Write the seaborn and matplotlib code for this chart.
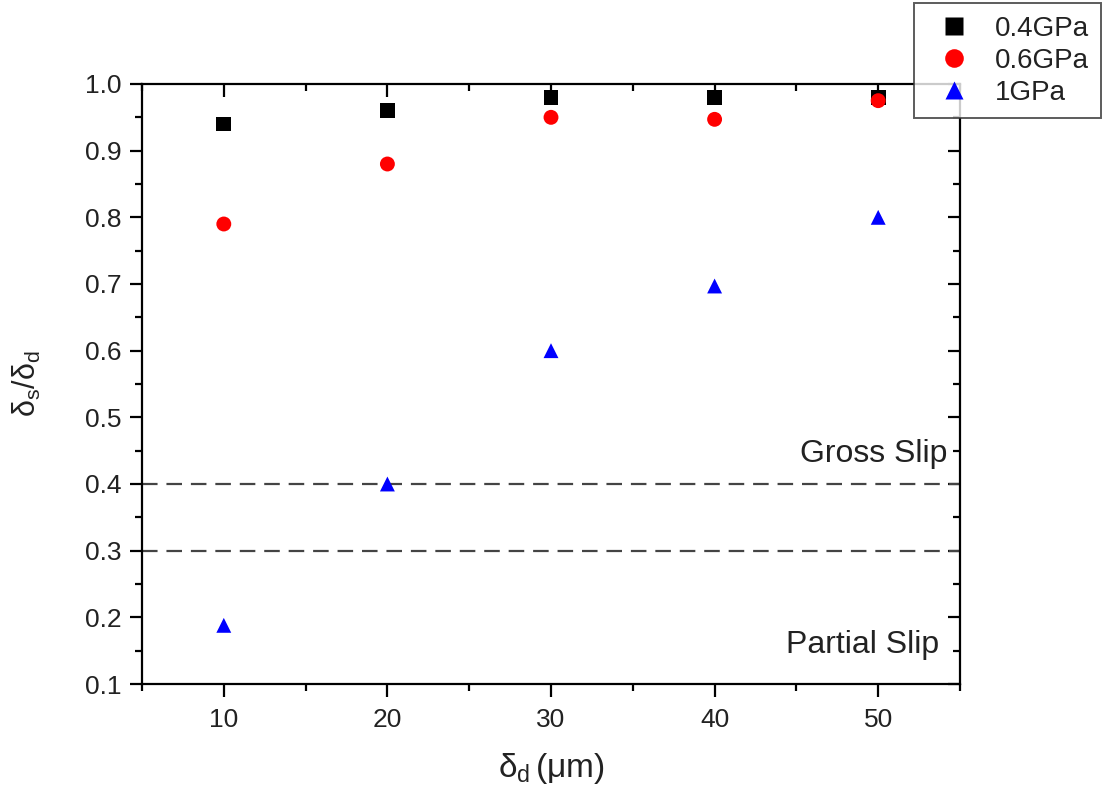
import matplotlib
matplotlib.use("Agg")
import matplotlib.pyplot as plt
import seaborn as sns
import pandas as pd
from matplotlib.ticker import MultipleLocator

x_vals = [10, 20, 30, 40, 50]
y_04 = [0.94, 0.96, 0.98, 0.98, 0.98]
y_06 = [0.79, 0.88, 0.95, 0.947, 0.975]
y_1 = [0.188, 0.40, 0.60, 0.697, 0.80]
series_names = ["0.4GPa", "0.6GPa", "1GPa"]
thresholds = [0.4, 0.3]

sns.set_theme(style="white")
plt.rcParams['font.family'] = ['Liberation Sans', 'DejaVu Sans']
plt.rcParams['mathtext.fontset'] = 'custom'
plt.rcParams['mathtext.rm'] = 'Liberation Sans'
plt.rcParams['mathtext.it'] = 'Liberation Sans'

df = pd.DataFrame({
    "x": x_vals * 3,
    "y": y_04 + y_06 + y_1,
    "series": [series_names[0]] * 5 + [series_names[1]] * 5 + [series_names[2]] * 5,
})

fig = plt.figure(figsize=(11.05, 7.96), dpi=100)
ax = fig.add_axes([142/1105, 1 - 684/796, (960-142)/1105, (684-84)/796])

palette = {"0.4GPa": "black", "0.6GPa": "red", "1GPa": "blue"}
markers = {"0.4GPa": "s", "0.6GPa": "o", "1GPa": "^"}
sns.scatterplot(data=df, x="x", y="y", hue="series", style="series",
                palette=palette, markers=markers, s=115, edgecolor="none",
                ax=ax, legend=True, zorder=3)

for t in thresholds:
    ax.axhline(t, color="#444444", lw=1.6, ls=(0, (7, 4)), zorder=1)

ax.text(54.2, 0.445, "Gross Slip", ha="right", va="center", fontsize=23, color="#222222")
ax.text(53.7, 0.158, "Partial Slip", ha="right", va="center", fontsize=23, color="#222222")

ax.set_xlim(5, 55)
ax.set_ylim(0.1, 1.0)
ax.xaxis.set_major_locator(MultipleLocator(10))
ax.xaxis.set_minor_locator(MultipleLocator(5))
ax.yaxis.set_major_locator(MultipleLocator(0.1))
ax.yaxis.set_minor_locator(MultipleLocator(0.05))
ax.yaxis.set_major_formatter(matplotlib.ticker.FormatStrFormatter('%.1f'))

for sp in ax.spines.values():
    sp.set_color("black")
    sp.set_linewidth(1.6)

ax.tick_params(axis="both", which="both", direction="out", labelsize=19, color="black", width=1.6,
               labelcolor="#222222")
ax.tick_params(axis="both", which="major", length=9)
ax.tick_params(axis="both", which="minor", length=5)
ax.tick_params(axis="x", which="both", top=True, bottom=True, pad=8)
ax.tick_params(axis="y", which="both", left=True, right=True, pad=6)
for tk in ax.xaxis.get_major_ticks() + ax.xaxis.get_minor_ticks():
    tk.tick2line.set_marker(matplotlib.lines.TICKDOWN)
for tk in ax.yaxis.get_major_ticks() + ax.yaxis.get_minor_ticks():
    tk.tick2line.set_marker(matplotlib.lines.TICKLEFT)

ax.set_xlabel(r"$\mathrm{\delta_d\,(\mu m)}$", fontsize=24, color="#222222", labelpad=14)
ax.set_ylabel(r"$\mathrm{\delta_s/\delta_d}$", fontsize=22, color="#222222", labelpad=30)

leg = ax.legend(loc="upper left", bbox_to_anchor=(914/1105, 1 - 3/796), bbox_transform=fig.transFigure,
                frameon=True, fontsize=20, markerscale=1.25, handletextpad=0.45, borderpad=0.45,
                labelspacing=0.22, fancybox=False, borderaxespad=0)
leg.get_frame().set_edgecolor("#333333")
leg.get_frame().set_linewidth(1.4)
for txt in leg.get_texts():
    txt.set_color("#222222")

fig.savefig("out.png", dpi=100)
